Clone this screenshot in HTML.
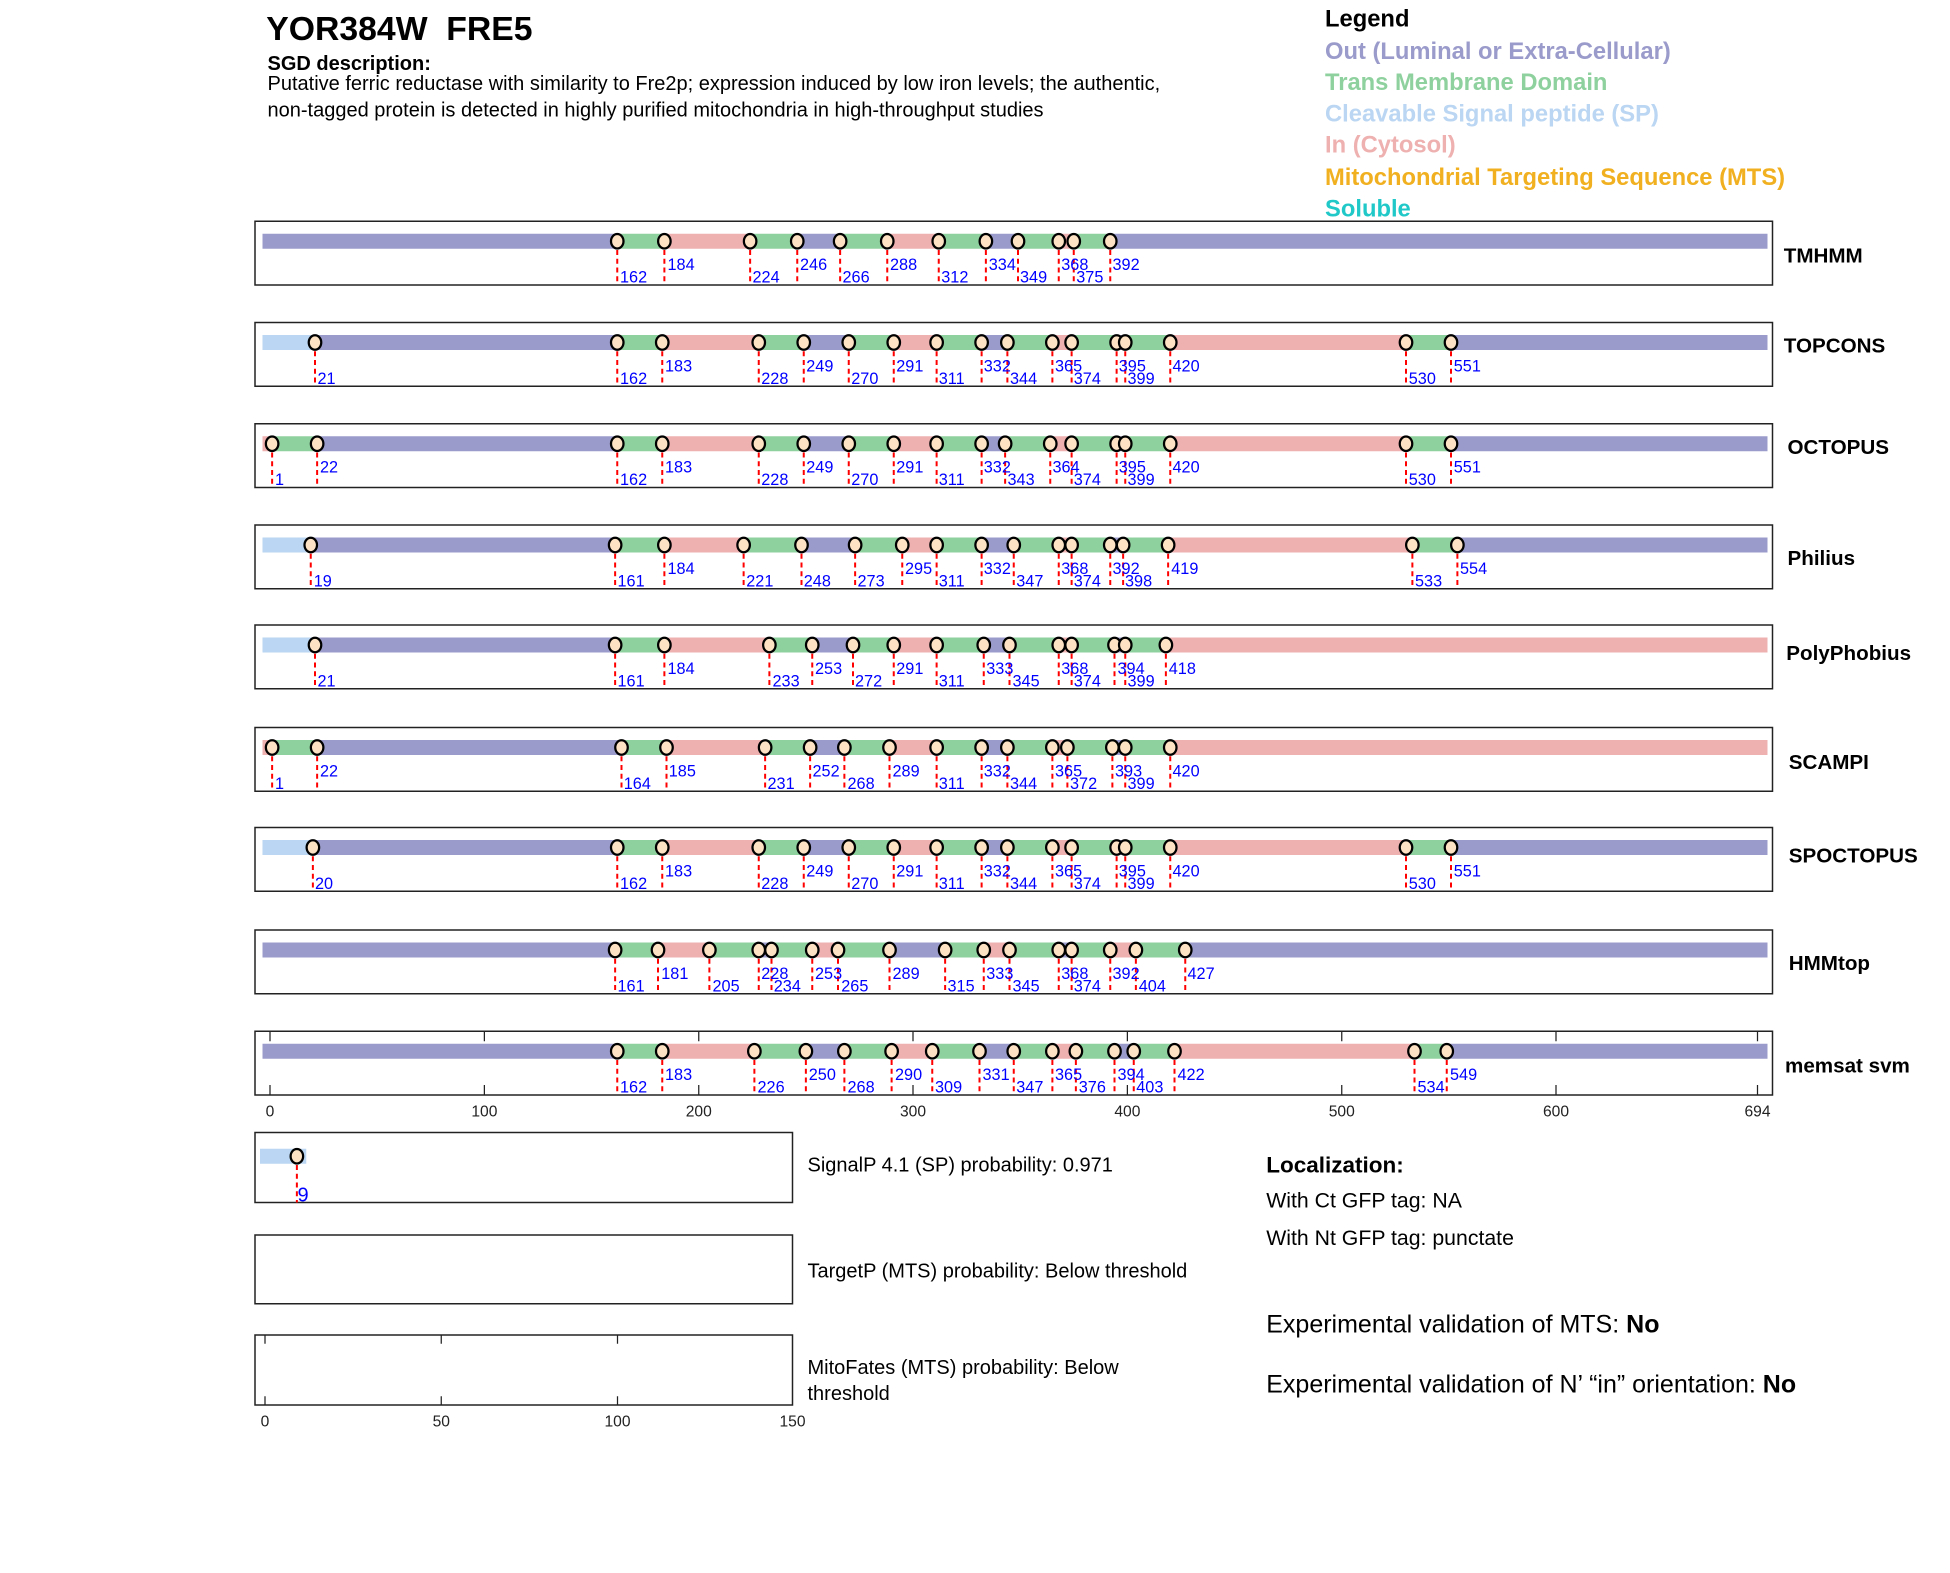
<!DOCTYPE html>
<html><head><meta charset="utf-8"><style>
html,body{margin:0;padding:0;background:#fff}
svg{display:block}
text{font-family:"Liberation Sans",Arial,sans-serif}
.b{fill:none;stroke:#222;stroke-width:1.2}
.lb{font-size:13px;fill:#0000ff}
.tr{font-size:16.5px;font-weight:bold;fill:#000}
.tk{font-size:12.5px;fill:#222;text-anchor:middle}
.o{fill:#9b9bcb}.t{fill:#8fd19e}.i{fill:#efb0b0}.s{fill:#bad6f2}
</style></head><body>
<svg width="1950" height="1573" viewBox="0 0 1560 1258.4" xmlns="http://www.w3.org/2000/svg">
<defs>
<g id="m"><line x1="0" y1="16" x2="0" y2="51" stroke="#ff0000" stroke-width="1.6" stroke-dasharray="4,3"/><ellipse cx="0" cy="16" rx="5" ry="5.8" fill="#fde3c3" stroke="#000" stroke-width="1.8"/></g>
</defs>
<text x="213" y="32" font-size="27" font-weight="bold">YOR384W&#160;&#160;FRE5</text>
<text x="214" y="56" font-size="16" font-weight="bold">SGD description:</text>
<text x="214" y="72" font-size="16">Putative ferric reductase with similarity to Fre2p; expression induced by low iron levels; the authentic,</text>
<text x="214" y="93" font-size="16">non-tagged protein is detected in highly purified mitochondria in high-throughput studies</text>
<g font-size="19" font-weight="bold">
<text x="1060" y="21" fill="#000">Legend</text>
<text x="1060" y="47" fill="#9b9bcb">Out (Luminal or Extra-Cellular)</text>
<text x="1060" y="72" fill="#8fd19e">Trans Membrane Domain</text>
<text x="1060" y="97" fill="#bad6f2">Cleavable Signal peptide (SP)</text>
<text x="1060" y="122" fill="#efb0b0">In (Cytosol)</text>
<text x="1060" y="148" fill="#f0b020">Mitochondrial Targeting Sequence (MTS)</text>
<text x="1060" y="173" fill="#20c8c8">Soluble</text>
</g>

<!-- TMHMM -->
<g transform="translate(0,177)">
<rect class="b" x="204" y="0" width="1214" height="51"/>
<rect class="o" x="210" y="10" width="283.8" height="12"/><rect class="t" x="493.8" y="10" width="37.7" height="12"/><rect class="i" x="531.5" y="10" width="68.6" height="12"/><rect class="t" x="600.1" y="10" width="37.7" height="12"/><rect class="o" x="637.8" y="10" width="34.3" height="12"/><rect class="t" x="672.1" y="10" width="37.7" height="12"/><rect class="i" x="709.8" y="10" width="41.2" height="12"/><rect class="t" x="751" y="10" width="37.7" height="12"/><rect class="o" x="788.7" y="10" width="25.7" height="12"/><rect class="t" x="814.4" y="10" width="32.6" height="12"/><rect class="i" x="847" y="10" width="12" height="12"/><rect class="t" x="859" y="10" width="29.2" height="12"/><rect class="o" x="888.2" y="10" width="525.8" height="12"/>
<use href="#m" x="493.8"/><use href="#m" x="531.5"/><use href="#m" x="600.1"/><use href="#m" x="637.8"/><use href="#m" x="672.1"/><use href="#m" x="709.8"/><use href="#m" x="751"/><use href="#m" x="788.7"/><use href="#m" x="814.4"/><use href="#m" x="847"/><use href="#m" x="859"/><use href="#m" x="888.2"/>
<g class="lb"><text x="496" y="49">162</text><text x="534" y="39">184</text><text x="602" y="49">224</text><text x="640" y="39">246</text><text x="674" y="49">266</text><text x="712" y="39">288</text><text x="753" y="49">312</text><text x="791" y="39">334</text><text x="816" y="49">349</text><text x="849" y="39">368</text><text x="861" y="49">375</text><text x="890" y="39">392</text></g>
<text class="tr" x="1427" y="33">TMHMM</text>
</g>

<!-- TOPCONS -->
<g transform="translate(0,258)">
<rect class="b" x="204" y="0" width="1214" height="51"/>
<rect class="s" x="210" y="10" width="42" height="12"/><rect class="o" x="252" y="10" width="241.8" height="12"/><rect class="t" x="493.8" y="10" width="36" height="12"/><rect class="i" x="529.8" y="10" width="77.2" height="12"/><rect class="t" x="607" y="10" width="36" height="12"/><rect class="o" x="643" y="10" width="36" height="12"/><rect class="t" x="679" y="10" width="36" height="12"/><rect class="i" x="715" y="10" width="34.3" height="12"/><rect class="t" x="749.3" y="10" width="36" height="12"/><rect class="o" x="785.3" y="10" width="20.6" height="12"/><rect class="t" x="805.9" y="10" width="36" height="12"/><rect class="i" x="841.9" y="10" width="15.4" height="12"/><rect class="t" x="857.3" y="10" width="36" height="12"/><rect class="o" x="893.3" y="10" width="6.9" height="12"/><rect class="t" x="900.2" y="10" width="36" height="12"/><rect class="i" x="936.2" y="10" width="188.6" height="12"/><rect class="t" x="1124.8" y="10" width="36" height="12"/><rect class="o" x="1160.8" y="10" width="253.2" height="12"/>
<use href="#m" x="252"/><use href="#m" x="493.8"/><use href="#m" x="529.8"/><use href="#m" x="607"/><use href="#m" x="643"/><use href="#m" x="679"/><use href="#m" x="715"/><use href="#m" x="749.3"/><use href="#m" x="785.3"/><use href="#m" x="805.9"/><use href="#m" x="841.9"/><use href="#m" x="857.3"/><use href="#m" x="893.3"/><use href="#m" x="900.2"/><use href="#m" x="936.2"/><use href="#m" x="1124.8"/><use href="#m" x="1160.8"/>
<g class="lb"><text x="254" y="49">21</text><text x="496" y="49">162</text><text x="532" y="39">183</text><text x="609" y="49">228</text><text x="645" y="39">249</text><text x="681" y="49">270</text><text x="717" y="39">291</text><text x="751" y="49">311</text><text x="787" y="39">332</text><text x="808" y="49">344</text><text x="844" y="39">365</text><text x="859" y="49">374</text><text x="895" y="39">395</text><text x="902" y="49">399</text><text x="938" y="39">420</text><text x="1127" y="49">530</text><text x="1163" y="39">551</text></g>
<text class="tr" x="1427" y="24">TOPCONS</text>
</g>

<!-- OCTOPUS -->
<g transform="translate(0,339)">
<rect class="b" x="204" y="0" width="1214" height="51"/>
<rect class="i" x="210" y="10" width="7.7" height="12"/><rect class="t" x="217.7" y="10" width="36" height="12"/><rect class="o" x="253.7" y="10" width="240.1" height="12"/><rect class="t" x="493.8" y="10" width="36" height="12"/><rect class="i" x="529.8" y="10" width="77.2" height="12"/><rect class="t" x="607" y="10" width="36" height="12"/><rect class="o" x="643" y="10" width="36" height="12"/><rect class="t" x="679" y="10" width="36" height="12"/><rect class="i" x="715" y="10" width="34.3" height="12"/><rect class="t" x="749.3" y="10" width="36" height="12"/><rect class="o" x="785.3" y="10" width="18.8" height="12"/><rect class="t" x="804.1" y="10" width="36.1" height="12"/><rect class="i" x="840.2" y="10" width="17.1" height="12"/><rect class="t" x="857.3" y="10" width="36" height="12"/><rect class="o" x="893.3" y="10" width="6.9" height="12"/><rect class="t" x="900.2" y="10" width="36" height="12"/><rect class="i" x="936.2" y="10" width="188.6" height="12"/><rect class="t" x="1124.8" y="10" width="36" height="12"/><rect class="o" x="1160.8" y="10" width="253.2" height="12"/>
<use href="#m" x="217.7"/><use href="#m" x="253.7"/><use href="#m" x="493.8"/><use href="#m" x="529.8"/><use href="#m" x="607"/><use href="#m" x="643"/><use href="#m" x="679"/><use href="#m" x="715"/><use href="#m" x="749.3"/><use href="#m" x="785.3"/><use href="#m" x="804.1"/><use href="#m" x="840.2"/><use href="#m" x="857.3"/><use href="#m" x="893.3"/><use href="#m" x="900.2"/><use href="#m" x="936.2"/><use href="#m" x="1124.8"/><use href="#m" x="1160.8"/>
<g class="lb"><text x="220" y="49">1</text><text x="256" y="39">22</text><text x="496" y="49">162</text><text x="532" y="39">183</text><text x="609" y="49">228</text><text x="645" y="39">249</text><text x="681" y="49">270</text><text x="717" y="39">291</text><text x="751" y="49">311</text><text x="787" y="39">332</text><text x="806" y="49">343</text><text x="842" y="39">364</text><text x="859" y="49">374</text><text x="895" y="39">395</text><text x="902" y="49">399</text><text x="938" y="39">420</text><text x="1127" y="49">530</text><text x="1163" y="39">551</text></g>
<text class="tr" x="1430" y="24">OCTOPUS</text>
</g>

<!-- Philius -->
<g transform="translate(0,420)">
<rect class="b" x="204" y="0" width="1214" height="51"/>
<rect class="s" x="210" y="10" width="38.6" height="12"/><rect class="o" x="248.6" y="10" width="243.5" height="12"/><rect class="t" x="492.1" y="10" width="39.4" height="12"/><rect class="i" x="531.5" y="10" width="63.4" height="12"/><rect class="t" x="594.9" y="10" width="46.3" height="12"/><rect class="o" x="641.2" y="10" width="42.9" height="12"/><rect class="t" x="684.1" y="10" width="37.7" height="12"/><rect class="i" x="721.8" y="10" width="27.5" height="12"/><rect class="t" x="749.3" y="10" width="36" height="12"/><rect class="o" x="785.3" y="10" width="25.7" height="12"/><rect class="t" x="811" y="10" width="36" height="12"/><rect class="i" x="847" y="10" width="10.3" height="12"/><rect class="t" x="857.3" y="10" width="30.9" height="12"/><rect class="o" x="888.2" y="10" width="10.3" height="12"/><rect class="t" x="898.5" y="10" width="36" height="12"/><rect class="i" x="934.5" y="10" width="195.4" height="12"/><rect class="t" x="1129.9" y="10" width="36" height="12"/><rect class="o" x="1165.9" y="10" width="248.1" height="12"/>
<use href="#m" x="248.6"/><use href="#m" x="492.1"/><use href="#m" x="531.5"/><use href="#m" x="594.9"/><use href="#m" x="641.2"/><use href="#m" x="684.1"/><use href="#m" x="721.8"/><use href="#m" x="749.3"/><use href="#m" x="785.3"/><use href="#m" x="811"/><use href="#m" x="847"/><use href="#m" x="857.3"/><use href="#m" x="888.2"/><use href="#m" x="898.5"/><use href="#m" x="934.5"/><use href="#m" x="1129.9"/><use href="#m" x="1165.9"/>
<g class="lb"><text x="251" y="49">19</text><text x="494" y="49">161</text><text x="534" y="39">184</text><text x="597" y="49">221</text><text x="643" y="49">248</text><text x="686" y="49">273</text><text x="724" y="39">295</text><text x="751" y="49">311</text><text x="787" y="39">332</text><text x="813" y="49">347</text><text x="849" y="39">368</text><text x="859" y="49">374</text><text x="890" y="39">392</text><text x="900" y="49">398</text><text x="937" y="39">419</text><text x="1132" y="49">533</text><text x="1168" y="39">554</text></g>
<text class="tr" x="1430" y="32">Philius</text>
</g>

<!-- PolyPhobius -->
<g transform="translate(0,500)">
<rect class="b" x="204" y="0" width="1214" height="51"/>
<rect class="s" x="210" y="10" width="42" height="12"/><rect class="o" x="252" y="10" width="240.1" height="12"/><rect class="t" x="492.1" y="10" width="39.4" height="12"/><rect class="i" x="531.5" y="10" width="84" height="12"/><rect class="t" x="615.5" y="10" width="34.3" height="12"/><rect class="o" x="649.8" y="10" width="32.6" height="12"/><rect class="t" x="682.4" y="10" width="32.6" height="12"/><rect class="i" x="715" y="10" width="34.3" height="12"/><rect class="t" x="749.3" y="10" width="37.7" height="12"/><rect class="o" x="787" y="10" width="20.6" height="12"/><rect class="t" x="807.6" y="10" width="39.4" height="12"/><rect class="i" x="847" y="10" width="10.3" height="12"/><rect class="t" x="857.3" y="10" width="34.3" height="12"/><rect class="o" x="891.6" y="10" width="8.6" height="12"/><rect class="t" x="900.2" y="10" width="32.5" height="12"/><rect class="i" x="932.7" y="10" width="481.3" height="12"/>
<use href="#m" x="252"/><use href="#m" x="492.1"/><use href="#m" x="531.5"/><use href="#m" x="615.5"/><use href="#m" x="649.8"/><use href="#m" x="682.4"/><use href="#m" x="715"/><use href="#m" x="749.3"/><use href="#m" x="787"/><use href="#m" x="807.6"/><use href="#m" x="847"/><use href="#m" x="857.3"/><use href="#m" x="891.6"/><use href="#m" x="900.2"/><use href="#m" x="932.7"/>
<g class="lb"><text x="254" y="49">21</text><text x="494" y="49">161</text><text x="534" y="39">184</text><text x="618" y="49">233</text><text x="652" y="39">253</text><text x="684" y="49">272</text><text x="717" y="39">291</text><text x="751" y="49">311</text><text x="789" y="39">333</text><text x="810" y="49">345</text><text x="849" y="39">368</text><text x="859" y="49">374</text><text x="894" y="39">394</text><text x="902" y="49">399</text><text x="935" y="39">418</text></g>
<text class="tr" x="1429" y="28">PolyPhobius</text>
</g>

<!-- SCAMPI -->
<g transform="translate(0,582)">
<rect class="b" x="204" y="0" width="1214" height="51"/>
<rect class="i" x="210" y="10" width="7.7" height="12"/><rect class="t" x="217.7" y="10" width="36" height="12"/><rect class="o" x="253.7" y="10" width="243.5" height="12"/><rect class="t" x="497.2" y="10" width="36" height="12"/><rect class="i" x="533.2" y="10" width="78.9" height="12"/><rect class="t" x="612.1" y="10" width="36" height="12"/><rect class="o" x="648.1" y="10" width="27.4" height="12"/><rect class="t" x="675.5" y="10" width="36.1" height="12"/><rect class="i" x="711.6" y="10" width="37.7" height="12"/><rect class="t" x="749.3" y="10" width="36" height="12"/><rect class="o" x="785.3" y="10" width="20.6" height="12"/><rect class="t" x="805.9" y="10" width="36" height="12"/><rect class="i" x="841.9" y="10" width="12" height="12"/><rect class="t" x="853.9" y="10" width="36" height="12"/><rect class="o" x="889.9" y="10" width="10.3" height="12"/><rect class="t" x="900.2" y="10" width="36" height="12"/><rect class="i" x="936.2" y="10" width="477.8" height="12"/>
<use href="#m" x="217.7"/><use href="#m" x="253.7"/><use href="#m" x="497.2"/><use href="#m" x="533.2"/><use href="#m" x="612.1"/><use href="#m" x="648.1"/><use href="#m" x="675.5"/><use href="#m" x="711.6"/><use href="#m" x="749.3"/><use href="#m" x="785.3"/><use href="#m" x="805.9"/><use href="#m" x="841.9"/><use href="#m" x="853.9"/><use href="#m" x="889.9"/><use href="#m" x="900.2"/><use href="#m" x="936.2"/>
<g class="lb"><text x="220" y="49">1</text><text x="256" y="39">22</text><text x="499" y="49">164</text><text x="535" y="39">185</text><text x="614" y="49">231</text><text x="650" y="39">252</text><text x="678" y="49">268</text><text x="714" y="39">289</text><text x="751" y="49">311</text><text x="787" y="39">332</text><text x="808" y="49">344</text><text x="844" y="39">365</text><text x="856" y="49">372</text><text x="892" y="39">393</text><text x="902" y="49">399</text><text x="938" y="39">420</text></g>
<text class="tr" x="1431" y="33">SCAMPI</text>
</g>

<!-- SPOCTOPUS -->
<g transform="translate(0,662)">
<rect class="b" x="204" y="0" width="1214" height="51"/>
<rect class="s" x="210" y="10" width="40.3" height="12"/><rect class="o" x="250.3" y="10" width="243.5" height="12"/><rect class="t" x="493.8" y="10" width="36" height="12"/><rect class="i" x="529.8" y="10" width="77.2" height="12"/><rect class="t" x="607" y="10" width="36" height="12"/><rect class="o" x="643" y="10" width="36" height="12"/><rect class="t" x="679" y="10" width="36" height="12"/><rect class="i" x="715" y="10" width="34.3" height="12"/><rect class="t" x="749.3" y="10" width="36" height="12"/><rect class="o" x="785.3" y="10" width="20.6" height="12"/><rect class="t" x="805.9" y="10" width="36" height="12"/><rect class="i" x="841.9" y="10" width="15.4" height="12"/><rect class="t" x="857.3" y="10" width="36" height="12"/><rect class="o" x="893.3" y="10" width="6.9" height="12"/><rect class="t" x="900.2" y="10" width="36" height="12"/><rect class="i" x="936.2" y="10" width="188.6" height="12"/><rect class="t" x="1124.8" y="10" width="36" height="12"/><rect class="o" x="1160.8" y="10" width="253.2" height="12"/>
<use href="#m" x="250.3"/><use href="#m" x="493.8"/><use href="#m" x="529.8"/><use href="#m" x="607"/><use href="#m" x="643"/><use href="#m" x="679"/><use href="#m" x="715"/><use href="#m" x="749.3"/><use href="#m" x="785.3"/><use href="#m" x="805.9"/><use href="#m" x="841.9"/><use href="#m" x="857.3"/><use href="#m" x="893.3"/><use href="#m" x="900.2"/><use href="#m" x="936.2"/><use href="#m" x="1124.8"/><use href="#m" x="1160.8"/>
<g class="lb"><text x="252" y="49">20</text><text x="496" y="49">162</text><text x="532" y="39">183</text><text x="609" y="49">228</text><text x="645" y="39">249</text><text x="681" y="49">270</text><text x="717" y="39">291</text><text x="751" y="49">311</text><text x="787" y="39">332</text><text x="808" y="49">344</text><text x="844" y="39">365</text><text x="859" y="49">374</text><text x="895" y="39">395</text><text x="902" y="49">399</text><text x="938" y="39">420</text><text x="1127" y="49">530</text><text x="1163" y="39">551</text></g>
<text class="tr" x="1431" y="28">SPOCTOPUS</text>
</g>

<!-- HMMtop -->
<g transform="translate(0,744)">
<rect class="b" x="204" y="0" width="1214" height="51"/>
<rect class="o" x="210" y="10" width="282.1" height="12"/><rect class="t" x="492.1" y="10" width="34.3" height="12"/><rect class="i" x="526.4" y="10" width="41.1" height="12"/><rect class="t" x="567.5" y="10" width="39.5" height="12"/><rect class="o" x="607" y="10" width="10.2" height="12"/><rect class="t" x="617.2" y="10" width="32.6" height="12"/><rect class="i" x="649.8" y="10" width="20.6" height="12"/><rect class="t" x="670.4" y="10" width="41.2" height="12"/><rect class="o" x="711.6" y="10" width="44.5" height="12"/><rect class="t" x="756.1" y="10" width="30.9" height="12"/><rect class="i" x="787" y="10" width="20.6" height="12"/><rect class="t" x="807.6" y="10" width="39.4" height="12"/><rect class="o" x="847" y="10" width="10.3" height="12"/><rect class="t" x="857.3" y="10" width="30.9" height="12"/><rect class="i" x="888.2" y="10" width="20.5" height="12"/><rect class="t" x="908.7" y="10" width="39.5" height="12"/><rect class="o" x="948.2" y="10" width="465.8" height="12"/>
<use href="#m" x="492.1"/><use href="#m" x="526.4"/><use href="#m" x="567.5"/><use href="#m" x="607"/><use href="#m" x="617.2"/><use href="#m" x="649.8"/><use href="#m" x="670.4"/><use href="#m" x="711.6"/><use href="#m" x="756.1"/><use href="#m" x="787"/><use href="#m" x="807.6"/><use href="#m" x="847"/><use href="#m" x="857.3"/><use href="#m" x="888.2"/><use href="#m" x="908.7"/><use href="#m" x="948.2"/>
<g class="lb"><text x="494" y="49">161</text><text x="529" y="39">181</text><text x="570" y="49">205</text><text x="609" y="39">228</text><text x="619" y="49">234</text><text x="652" y="39">253</text><text x="673" y="49">265</text><text x="714" y="39">289</text><text x="758" y="49">315</text><text x="789" y="39">333</text><text x="810" y="49">345</text><text x="849" y="39">368</text><text x="859" y="49">374</text><text x="890" y="39">392</text><text x="911" y="49">404</text><text x="950" y="39">427</text></g>
<text class="tr" x="1431" y="32">HMMtop</text>
</g>

<!-- memsat svm -->
<g transform="translate(0,825)">
<rect class="b" x="204" y="0" width="1214" height="51"/>
<g stroke="#222" stroke-width="1">
<line x1="216" y1="0" x2="216" y2="8"/><line x1="387.5" y1="0" x2="387.5" y2="8"/><line x1="559" y1="0" x2="559" y2="8"/><line x1="730.4" y1="0" x2="730.4" y2="8"/><line x1="901.9" y1="0" x2="901.9" y2="8"/><line x1="1073.4" y1="0" x2="1073.4" y2="8"/><line x1="1244.8" y1="0" x2="1244.8" y2="8"/><line x1="1406" y1="0" x2="1406" y2="8"/>
<line x1="216" y1="43" x2="216" y2="51"/><line x1="387.5" y1="43" x2="387.5" y2="51"/><line x1="559" y1="43" x2="559" y2="51"/><line x1="730.4" y1="43" x2="730.4" y2="51"/><line x1="901.9" y1="43" x2="901.9" y2="51"/><line x1="1073.4" y1="43" x2="1073.4" y2="51"/><line x1="1244.8" y1="43" x2="1244.8" y2="51"/><line x1="1406" y1="43" x2="1406" y2="51"/>
</g>
<rect class="o" x="210" y="10" width="283.8" height="12"/><rect class="t" x="493.8" y="10" width="36" height="12"/><rect class="i" x="529.8" y="10" width="73.7" height="12"/><rect class="t" x="603.5" y="10" width="41.2" height="12"/><rect class="o" x="644.7" y="10" width="30.8" height="12"/><rect class="t" x="675.5" y="10" width="37.8" height="12"/><rect class="i" x="713.3" y="10" width="32.5" height="12"/><rect class="t" x="745.8" y="10" width="37.8" height="12"/><rect class="o" x="783.6" y="10" width="27.4" height="12"/><rect class="t" x="811" y="10" width="30.9" height="12"/><rect class="i" x="841.9" y="10" width="18.8" height="12"/><rect class="t" x="860.7" y="10" width="30.9" height="12"/><rect class="o" x="891.6" y="10" width="15.4" height="12"/><rect class="t" x="907" y="10" width="32.6" height="12"/><rect class="i" x="939.6" y="10" width="192" height="12"/><rect class="t" x="1131.6" y="10" width="25.8" height="12"/><rect class="o" x="1157.4" y="10" width="256.6" height="12"/>
<use href="#m" x="493.8"/><use href="#m" x="529.8"/><use href="#m" x="603.5"/><use href="#m" x="644.7"/><use href="#m" x="675.5"/><use href="#m" x="713.3"/><use href="#m" x="745.8"/><use href="#m" x="783.6"/><use href="#m" x="811"/><use href="#m" x="841.9"/><use href="#m" x="860.7"/><use href="#m" x="891.6"/><use href="#m" x="907"/><use href="#m" x="939.6"/><use href="#m" x="1131.6"/><use href="#m" x="1157.4"/>
<g class="lb"><text x="496" y="49">162</text><text x="532" y="39">183</text><text x="606" y="49">226</text><text x="647" y="39">250</text><text x="678" y="49">268</text><text x="716" y="39">290</text><text x="748" y="49">309</text><text x="786" y="39">331</text><text x="813" y="49">347</text><text x="844" y="39">365</text><text x="863" y="49">376</text><text x="894" y="39">394</text><text x="909" y="49">403</text><text x="942" y="39">422</text><text x="1134" y="49">534</text><text x="1160" y="39">549</text></g>
<text class="tr" x="1428" y="33">memsat svm</text>
</g>
<g class="tk"><text x="216" y="893">0</text><text x="387.5" y="893">100</text><text x="559" y="893">200</text><text x="730.4" y="893">300</text><text x="901.9" y="893">400</text><text x="1073.4" y="893">500</text><text x="1244.8" y="893">600</text><text x="1406" y="893">694</text></g>

<!-- lower panels -->
<rect class="b" x="204" y="906" width="430" height="56"/>
<rect class="s" x="208" y="919" width="37" height="12"/>
<g transform="translate(237.5,909)"><line x1="0" y1="16" x2="0" y2="53" stroke="#ff0000" stroke-width="1.6" stroke-dasharray="4,3"/><ellipse cx="0" cy="16" rx="5" ry="5.8" fill="#fde3c3" stroke="#000" stroke-width="1.8"/></g>
<text x="238" y="961" font-size="16" fill="#0000ff">9</text>
<rect class="b" x="204" y="988" width="430" height="55"/>
<rect class="b" x="204" y="1068" width="430" height="56"/>
<g stroke="#222" stroke-width="1">
<line x1="212" y1="1068" x2="212" y2="1075"/><line x1="353" y1="1068" x2="353" y2="1075"/><line x1="494" y1="1068" x2="494" y2="1075"/>
<line x1="212" y1="1117" x2="212" y2="1124"/><line x1="353" y1="1117" x2="353" y2="1124"/><line x1="494" y1="1117" x2="494" y2="1124"/>
</g>
<g class="tk"><text x="212" y="1141">0</text><text x="353" y="1141">50</text><text x="494" y="1141">100</text><text x="634" y="1141">150</text></g>
<g font-size="16" fill="#000">
<text x="646" y="937">SignalP 4.1 (SP) probability: 0.971</text>
<text x="646" y="1022">TargetP (MTS) probability: Below threshold</text>
<text x="646" y="1099">MitoFates (MTS) probability: Below</text>
<text x="646" y="1120">threshold</text>
</g>
<text x="1013" y="938" font-size="18" font-weight="bold">Localization:</text>
<text x="1013" y="966" font-size="17">With Ct GFP tag: NA</text>
<text x="1013" y="996" font-size="17">With Nt GFP tag: punctate</text>
<text x="1013" y="1066" font-size="20">Experimental validation of MTS: <tspan font-weight="bold">No</tspan></text>
<text x="1013" y="1114" font-size="20">Experimental validation of N’ “in” orientation: <tspan font-weight="bold">No</tspan></text>
</svg>
</body></html>
